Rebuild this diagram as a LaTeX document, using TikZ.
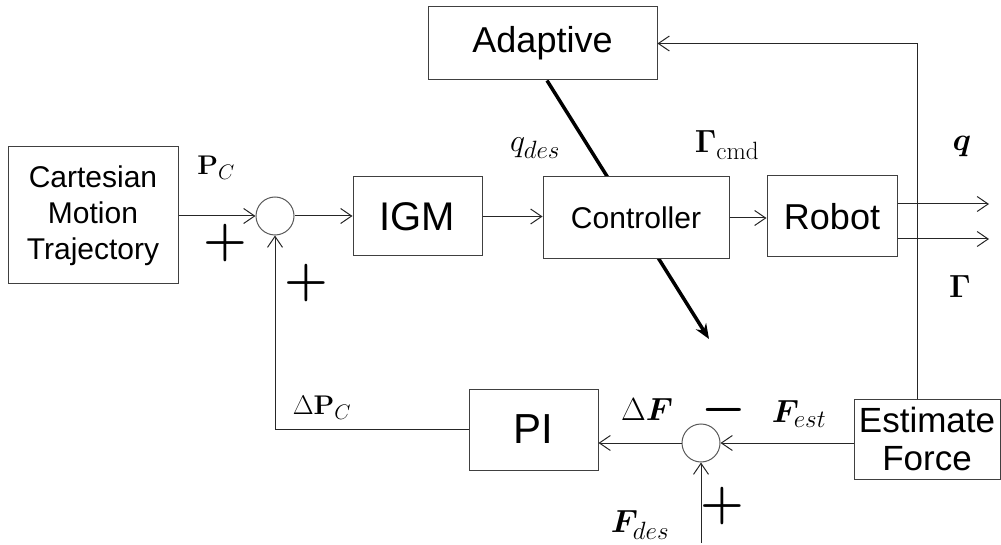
\RequirePackage{fix-cm}
\documentclass[tikz,border=0pt]{standalone}
\usepackage{amsmath,bm}
\usepackage[no-math]{fontspec}
\setmainfont{Liberation Sans}
\usetikzlibrary{arrows.meta,backgrounds}
\DeclareMathSizes{32}{32}{25}{20}
\DeclareMathSizes{27}{27}{21}{16}
\tikzset{
  blk/.style={draw=black!75, line width=1pt, fill=white, inner sep=0pt, align=center},
  sumc/.style={circle, draw=black!65, line width=1pt, minimum size=38pt, inner sep=0pt},
  con/.style={draw=black!85, line width=1pt, -{Straight Barb[length=11pt,width=15pt,line width=1pt]}},
  lbl/.style={inner sep=0pt, font=\fontsize{32}{34}\selectfont},
  slbl/.style={inner sep=0pt, font=\fontsize{27}{29}\selectfont},
  sgn/.style={inner sep=0pt, font=\fontsize{50}{50}\selectfont},
}
\begin{document}
\begin{tikzpicture}[x=1pt,y=-1pt]
\useasboundingbox (0,0) rectangle (1001,545);
% blocks
\node[blk, minimum width=170pt, minimum height=137pt, font=\fontsize{30}{36}\selectfont] (cart) at (93,215.5) {Cartesian\\Motion\\Trajectory};
\node[sumc] (sum1) at (275,216) {};
\node[blk, minimum width=129pt, minimum height=79pt, font=\fontsize{40}{44}\selectfont] (igm) at (417.5,216.5) {IGM};
\node[blk, minimum width=186pt, minimum height=82pt, font=\fontsize{30}{36}\selectfont] (ctrl) at (636,218) {Controller};
\node[blk, minimum width=130pt, minimum height=81pt, font=\fontsize{36}{40}\selectfont] (robot) at (832,216.5) {Robot};
\node[blk, minimum width=229pt, minimum height=73pt, font=\fontsize{36}{40}\selectfont] (adapt) at (542.5,43.5) {Adaptive};
\node[blk, minimum width=129pt, minimum height=81pt, font=\fontsize{42}{46}\selectfont] (pi) at (533.5,429.5) {PI};
\node[sumc] (sum2) at (701,443) {};
\node[blk, minimum width=146pt, minimum height=80pt, font=\fontsize{35}{38}\selectfont] (est) at (927,439) {Estimate\\Force};
% coordinates
\coordinate (qend) at (989,204);
\coordinate (gend) at (989,239);
\coordinate (corner) at (917,43.5);
\coordinate (tip) at (709,339);
\coordinate (fdes) at (701,543);
% thick adaptation arrow (behind controller)
\begin{scope}[on background layer]
\draw[line width=3.5pt, -{Stealth[length=15pt,width=12pt]}] ([xshift=4.5pt]adapt.south) -- (tip);
\end{scope}
% connectors
\draw[con] (cart.east |- sum1.west) -- (sum1.west);
\draw[con] (sum1.east) -- (igm.west |- sum1.east);
\draw[con] (igm.east) -- (igm.east -| ctrl.west);
\draw[con] (ctrl.east) -- (ctrl.east -| robot.west);
\draw[con] (robot.east |- qend) -- (qend);
\draw[con] (robot.east |- gend) -- (gend);
\draw[con, {Straight Barb[length=11pt,width=15pt,line width=1pt]}-] (adapt.east |- corner) -- (corner) -- (corner |- est.north);
\draw[con] (pi.west) -| (sum1.south);
\draw[con] (sum2.west) -- (sum2.west -| pi.east);
\draw[con] (sum2.east -| est.west) -- (sum2.east);
\draw[con] (fdes) -- (sum2.south);
% labels
\node[slbl] (lpc) at (216,168) {$\mathbf{P}_{C}$};
\node[sgn] (p1) at (225,243) {$\bm{+}$};
\node[sgn] (p2) at (306,283) {$\bm{+}$};
\node[lbl] (lqdes) at (535,148) {$q_{des}$};
\node[lbl] (lgcmd) at (727,145) {$\mathbf{\Gamma}_{\mathrm{cmd}}$};
\node[lbl] (lq) at (962,147) {$\bm{q}$};
\node[lbl] (lg) at (960,287) {$\mathbf{\Gamma}$};
\node[lbl] (lfest) at (799,414) {$\bm{F}_{est}$};
\node[sgn] (m1) at (724,410) {$\bm{-}$};
\node[lbl] (ldf) at (647,410) {$\Delta\bm{F}$};
\node[slbl] (ldpc) at (322,408) {$\Delta\mathbf{P}_{C}$};
\node[lbl] (lfdes) at (640,525) {$\bm{F}_{des}$};
\node[sgn] (p3) at (722,506) {$\bm{+}$};
\end{tikzpicture}
\end{document}
